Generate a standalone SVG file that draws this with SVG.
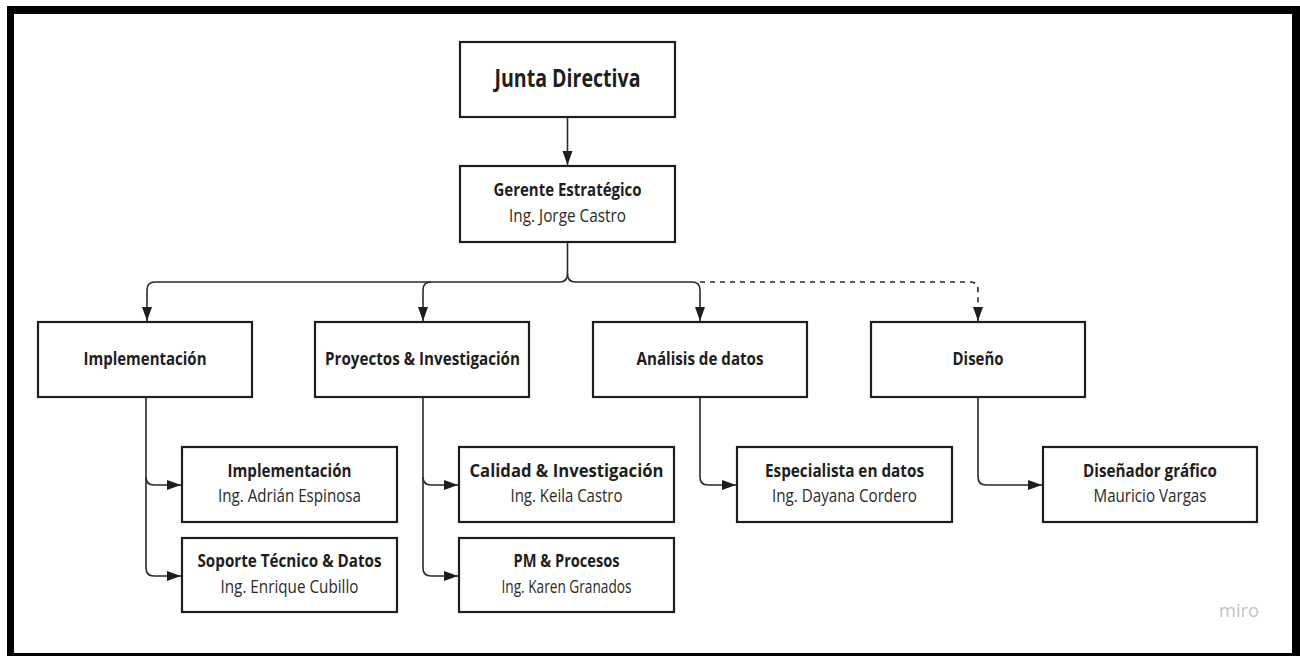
<svg xmlns="http://www.w3.org/2000/svg" width="1300" height="656" viewBox="0 0 1300 656">
  <style>
    .box { fill: #ffffff; stroke: #1e1e1e; stroke-width: 2.2; }
    .t { font-family: "Open Sans", "Liberation Sans", sans-serif; font-weight: 700; font-size: 17.5px; fill: #1e1e1e; text-anchor: middle; }
    .s { font-family: "Open Sans", "Liberation Sans", sans-serif; font-weight: 400; font-size: 17.5px; fill: #2a2a2a; text-anchor: middle; }
    .big { font-size: 25px; }
    .c { fill: none; stroke: #2a2a2a; stroke-width: 1.6; }
    .d { stroke-dasharray: 5 5; }
  </style>
  <defs>
    <marker id="arr" markerUnits="userSpaceOnUse" markerWidth="15" markerHeight="11" refX="14" refY="5" orient="auto">
      <path d="M0,0 L14,5 L0,10 z" fill="#1e1e1e"/>
    </marker>
  </defs>

  <!-- frame -->
  <rect x="0" y="0" width="1300" height="656" fill="#ffffff"/>
  <rect x="7" y="6" width="1293" height="650" fill="#000000"/>
  <rect x="14" y="14" width="1278" height="639" fill="#ffffff"/>

  <g id="connectors">
    <path class="c" d="M567.5,117 V165" marker-end="url(#arr)"/>
    <path class="c" d="M567.5,242 V274 Q567.5,282 559.5,282 H155 Q147,282 147,290 V321" marker-end="url(#arr)"/>
    <path class="c" d="M567.5,274 Q567.5,282 575.5,282 H692 Q700,282 700,290 V321" marker-end="url(#arr)"/>
    <path class="c" d="M431,282 Q423,282 423,290 V321" marker-end="url(#arr)"/>
    <path class="c d" d="M700,282 H970 Q978,282 978,290 V321" marker-end="url(#arr)"/>

    <path class="c" d="M146,397 V477 Q146,485 154,485 H181" marker-end="url(#arr)"/>
    <path class="c" d="M146,477 V568 Q146,576 154,576 H181" marker-end="url(#arr)"/>
    <path class="c" d="M423,397 V477 Q423,485 431,485 H458" marker-end="url(#arr)"/>
    <path class="c" d="M423,477 V568 Q423,576 431,576 H458" marker-end="url(#arr)"/>
    <path class="c" d="M700,397 V477 Q700,485 708,485 H736" marker-end="url(#arr)"/>
    <path class="c" d="M978,397 V477 Q978,485 986,485 H1042" marker-end="url(#arr)"/>
  </g>

  <g id="junta">
    <rect class="box" x="460" y="42" width="215" height="75"/>
    <text class="t big" x="567.5" y="87" textLength="146" lengthAdjust="spacingAndGlyphs">Junta Directiva</text>
  </g>
  <g id="gerente">
    <rect class="box" x="460" y="166" width="215" height="76"/>
    <text class="t" x="567.5" y="196" textLength="148" lengthAdjust="spacingAndGlyphs">Gerente Estratégico</text>
    <text class="s" x="567.5" y="222" textLength="117" lengthAdjust="spacingAndGlyphs">Ing. Jorge Castro</text>
  </g>

  <g id="implementacion">
    <rect class="box" x="38" y="322" width="214" height="75"/>
    <text class="t" x="145" y="365" textLength="123" lengthAdjust="spacingAndGlyphs">Implementación</text>
  </g>
  <g id="proyectos">
    <rect class="box" x="315" y="322" width="214" height="75"/>
    <text class="t" x="422.5" y="365" textLength="195" lengthAdjust="spacingAndGlyphs">Proyectos &amp; Investigación</text>
  </g>
  <g id="analisis">
    <rect class="box" x="593" y="322" width="214" height="75"/>
    <text class="t" x="700" y="365" textLength="127" lengthAdjust="spacingAndGlyphs">Análisis de datos</text>
  </g>
  <g id="diseno">
    <rect class="box" x="871" y="322" width="214" height="75"/>
    <text class="t" x="978" y="365" textLength="51" lengthAdjust="spacingAndGlyphs">Diseño</text>
  </g>

  <g id="impl-adrian">
    <rect class="box" x="182" y="447" width="215" height="75"/>
    <text class="t" x="289.5" y="477" textLength="124" lengthAdjust="spacingAndGlyphs">Implementación</text>
    <text class="s" x="289.5" y="502" textLength="143" lengthAdjust="spacingAndGlyphs">Ing. Adrián Espinosa</text>
  </g>
  <g id="soporte">
    <rect class="box" x="182" y="538" width="215" height="74"/>
    <text class="t" x="289.5" y="567" textLength="184" lengthAdjust="spacingAndGlyphs">Soporte Técnico &amp; Datos</text>
    <text class="s" x="289.5" y="593" textLength="138" lengthAdjust="spacingAndGlyphs">Ing. Enrique Cubillo</text>
  </g>
  <g id="calidad">
    <rect class="box" x="459" y="447" width="215" height="75"/>
    <text class="t" x="566.5" y="477" textLength="194" lengthAdjust="spacingAndGlyphs">Calidad &amp; Investigación</text>
    <text class="s" x="566.5" y="502" textLength="112" lengthAdjust="spacingAndGlyphs">Ing. Keila Castro</text>
  </g>
  <g id="pm">
    <rect class="box" x="459" y="538" width="215" height="74"/>
    <text class="t" x="566.5" y="567" textLength="106" lengthAdjust="spacingAndGlyphs">PM &amp; Procesos</text>
    <text class="s" x="566.5" y="593" textLength="130" lengthAdjust="spacingAndGlyphs">Ing. Karen Granados</text>
  </g>
  <g id="especialista">
    <rect class="box" x="737" y="447" width="215" height="75"/>
    <text class="t" x="844.5" y="477" textLength="159" lengthAdjust="spacingAndGlyphs">Especialista en datos</text>
    <text class="s" x="844.5" y="502" textLength="145" lengthAdjust="spacingAndGlyphs">Ing. Dayana Cordero</text>
  </g>
  <g id="disenador">
    <rect class="box" x="1043" y="447" width="214" height="75"/>
    <text class="t" x="1150" y="477" textLength="134" lengthAdjust="spacingAndGlyphs">Diseñador gráfico</text>
    <text class="s" x="1150" y="502" textLength="113" lengthAdjust="spacingAndGlyphs">Mauricio Vargas</text>
  </g>

  <text x="1239" y="617" font-family="'Open Sans', 'Liberation Sans', sans-serif" font-size="18" fill="#c4c4c4" text-anchor="middle" textLength="40" lengthAdjust="spacingAndGlyphs">miro</text>
</svg>
